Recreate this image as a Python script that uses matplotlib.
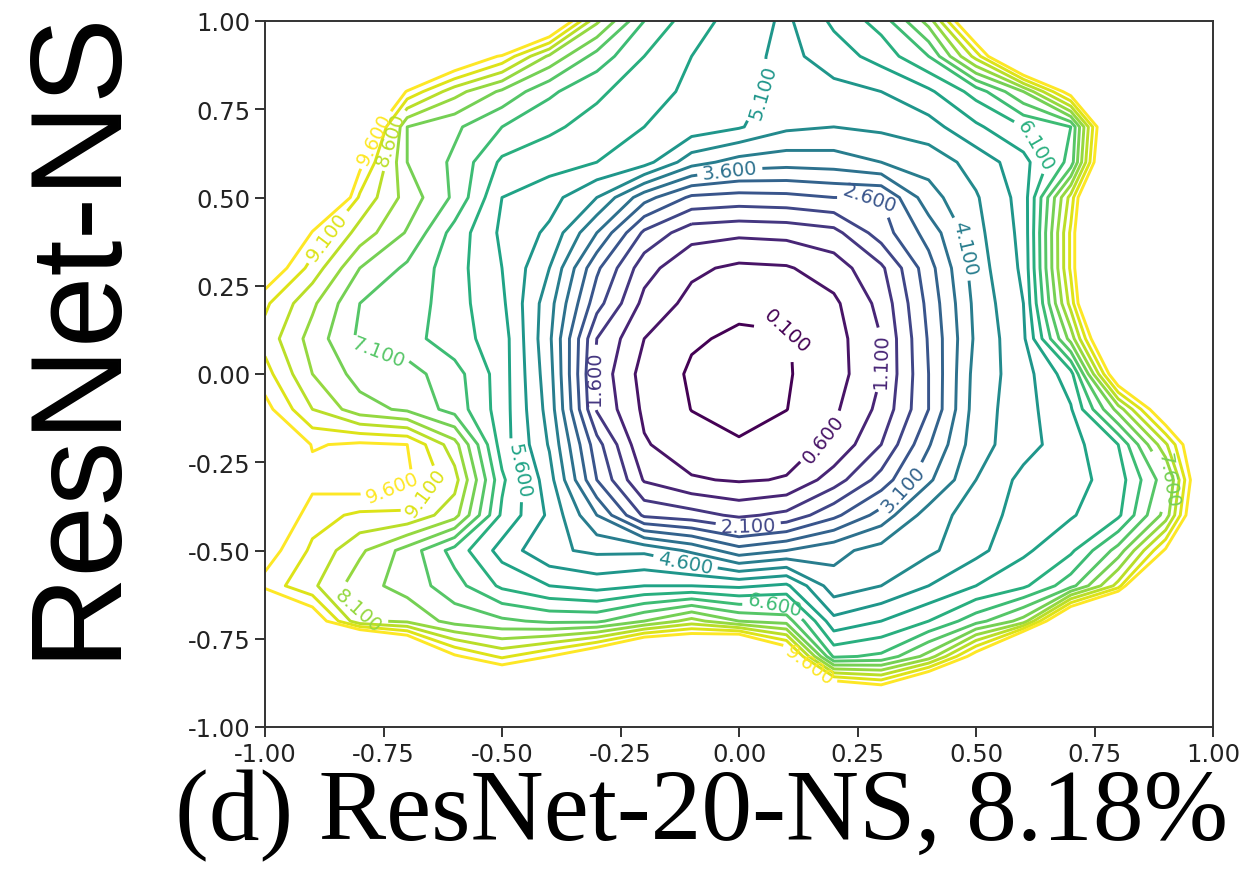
import numpy as np
import matplotlib
matplotlib.use("Agg")
import matplotlib.pyplot as plt

# grid coordinates of the loss surface (direction 1 / direction 2)
x_coords = [-1.0, -0.9, -0.8, -0.7, -0.6, -0.5, -0.4, -0.3, -0.2, -0.1, 0.0,
            0.1, 0.2, 0.3, 0.4, 0.5, 0.6, 0.7, 0.8, 0.9, 1.0]
y_coords = [1.0, 0.9, 0.8, 0.7, 0.6, 0.5, 0.4, 0.3, 0.2, 0.1, 0.0,
            -0.1, -0.2, -0.3, -0.4, -0.5, -0.6, -0.7, -0.8, -0.9, -1.0]

# loss values, one list per row (top row first)
loss_y100 = [14, 14, 14, 14, 14, 14, 10.9, 8.2, 6.6, 5.8, 5.4, 5.0, 5.7, 6.3, 7.8, 11, 14, 14, 14, 14, 14]
loss_y090 = [14, 14, 14, 14, 10.5, 9.5, 8.0, 6.9, 6.1, 5.6, 5.3, 4.95, 5.35, 5.8, 6.6, 8.8, 11.9, 14, 14, 14, 14]
loss_y080 = [14, 14, 13, 9.5, 8.3, 7.5, 6.7, 6.2, 5.8, 5.5, 5.3, 4.9, 4.95, 5.1, 5.5, 6.3, 7.6, 10, 14, 14, 14]
loss_y070 = [14, 14, 11, 7.6, 7.2, 6.6, 6.2, 5.9, 5.6, 5.4, 5.15, 4.7, 4.6, 4.7, 4.9, 5.5, 6.1, 6.6, 12, 14, 14]
loss_y060 = [14, 13, 9.8, 7.6, 7.0, 6.0, 5.8, 5.6, 5.3, 4.3, 3.9, 3.8, 3.85, 4.1, 4.3, 4.8, 5.4, 6.8, 12.5, 14, 14]
loss_y050 = [14, 12, 9.0, 7.9, 7.0, 5.6, 5.3, 4.6, 3.3, 2.5, 2.4, 2.45, 2.6, 2.6, 3.9, 4.55, 5.3, 8.8, 14, 14, 14]
loss_y040 = [14, 9.5, 8.4, 7.55, 6.4, 5.5, 5.0, 3.6, 2.0, 1.3, 1.2, 1.25, 1.43, 2.35, 3.3, 4.45, 5.25, 9.2, 14, 14, 14]
loss_y030 = [10.2, 8.9, 7.6, 7.0, 6.3, 5.6, 4.6, 2.7, 1.3, 0.7, 0.5, 0.55, 0.85, 1.5, 2.9, 4.35, 5.2, 9.2, 14, 14, 14]
loss_y020 = [9.2, 8.2, 7.1, 6.9, 6.3, 5.7, 4.3, 2.3, 0.95, 0.45, 0.2, 0.2, 0.5, 1.25, 2.75, 4.25, 5.1, 8.8, 14, 14, 14]
loss_y010 = [8.9, 7.9, 7.0, 6.8, 6.3, 5.85, 4.2, 1.6, 0.6, 0.15, 0.03, 0.07, 0.39, 1.1, 2.65, 4.2, 5.0, 7.8, 12, 14, 14]
loss_y000 = [9.3, 8.1, 7.4, 7.3, 6.8, 5.85, 4.3, 1.45, 0.4, 0.04, 0.0, 0.06, 0.36, 1.1, 2.6, 4.3, 4.87, 5.9, 10.5, 14, 14]
loss_m010 = [9.8, 8.6, 7.8, 7.5, 6.9, 5.85, 4.4, 1.55, 0.5, 0.09, 0.03, 0.09, 0.51, 1.24, 2.6, 4.35, 4.9, 5.55, 7.8, 10.5, 14]
loss_m020 = [11, 9.55, 9.7, 9.6, 8.3, 5.85, 4.55, 2.3, 0.65, 0.3, 0.12, 0.4, 0.7, 1.6, 3.05, 4.4, 4.9, 5.4, 6.1, 8.5, 11.5]
loss_m030 = [11.5, 9.8, 10.0, 9.7, 8.8, 6.2, 4.8, 2.6, 1.05, 0.65, 0.55, 0.63, 1.35, 2.3, 3.5, 4.6, 5.25, 5.4, 5.85, 7.4, 11.6]
loss_m040 = [10.5, 9.3, 9.0, 9.0, 8.3, 6.0, 5.0, 3.6, 2.0, 1.8, 1.5, 1.73, 2.47, 3.3, 4.35, 4.85, 5.3, 5.55, 6.0, 7.8, 12]
loss_m050 = [9.9, 9.0, 8.2, 7.4, 6.4, 5.4, 4.7, 4.5, 4.5, 4.0, 3.3, 3.6, 3.95, 4.3, 4.5, 4.95, 5.5, 6.0, 7.3, 9.7, 14]
loss_m060 = [9.4, 8.7, 7.8, 7.4, 6.8, 6.0, 5.6, 5.4, 5.6, 5.6, 5.5, 5.7, 4.3, 4.6, 5.1, 5.6, 6.0, 6.9, 8.8, 14, 14]
loss_m070 = [12, 10.2, 8.2, 8.0, 7.4, 7.2, 7.0, 7.0, 7.6, 8.3, 7.6, 7.4, 5.25, 5.6, 6.1, 6.9, 7.8, 11.5, 14, 14, 14]
loss_m080 = [14, 14, 14, 12, 9.7, 9.0, 9.6, 10.5, 12, 12, 13, 10.5, 6.5, 6.7, 7.8, 10, 14, 14, 14, 14, 14]
loss_m090 = [14, 14, 14, 14, 14, 11.5, 14, 14, 14, 14, 14, 14, 11, 10.3, 12, 14, 14, 14, 14, 14, 14]
loss_m100 = [14] * 21

levels = [0.1, 0.6, 1.1, 1.6, 2.1, 2.6, 3.1, 3.6, 4.1, 4.6,
          5.1, 5.6, 6.1, 6.6, 7.1, 7.6, 8.1, 8.6, 9.1, 9.6]
ticks = [-1.0, -0.75, -0.5, -0.25, 0.0, 0.25, 0.5, 0.75, 1.0]

# where the inline labels sit
label_spots = [(0.108, 0.156), (0.175, -0.18), (0.30, 0.04), (-0.31, -0.01),
               (0.02, -0.44), (0.276, 0.48), (0.35, -0.33), (-0.02, 0.58),
               (0.466, 0.354), (-0.114, -0.54), (0.065, 0.79), (-0.46, -0.27),
               (0.646, 0.666), (0.076, -0.64), (-0.757, 0.085), (0.91, -0.3),
               (-0.8, -0.666), (-0.736, 0.666), (-0.88, 0.40), (-0.77, 0.666),
               (-0.726, -0.354), (-0.656, -0.34), (0.15, -0.82)]

Z = np.array([loss_y100, loss_y090, loss_y080, loss_y070, loss_y060, loss_y050,
              loss_y040, loss_y030, loss_y020, loss_y010, loss_y000, loss_m010,
              loss_m020, loss_m030, loss_m040, loss_m050, loss_m060, loss_m070,
              loss_m080, loss_m090, loss_m100])
X, Y = np.meshgrid(x_coords, y_coords)

fig = plt.figure(figsize=(12.44, 8.79), dpi=100)
ax = fig.add_axes([265 / 1244, 1 - 728 / 879, 948 / 1244, 706 / 879])

cs = ax.contour(X, Y, Z, levels=levels, cmap='viridis', linewidths=2.1)
ax.clabel(cs, inline=True, fmt='%1.3f', fontsize=14, manual=label_spots)

ax.set_xlim(-1, 1)
ax.set_ylim(-1, 1)
ax.set_xticks(ticks)
ax.set_yticks(ticks)
ax.xaxis.set_major_formatter(matplotlib.ticker.FormatStrFormatter('%.2f'))
ax.yaxis.set_major_formatter(matplotlib.ticker.FormatStrFormatter('%.2f'))
ax.tick_params(labelsize=17.5, length=7, width=1.3, colors='#222222')
for sp in ax.spines.values():
    sp.set_linewidth(1.4)
    sp.set_color('#333333')

fig.text(0.0627, 0.622, 'ResNet-NS', rotation=90, fontsize=93,
         family='Liberation Sans', ha='center', va='center')
fig.text(0.564, 0.044, '(d) ResNet-20-NS, 8.18%', fontsize=73,
         family='Liberation Serif', ha='center', va='baseline')

fig.savefig('out.png', dpi=100)
